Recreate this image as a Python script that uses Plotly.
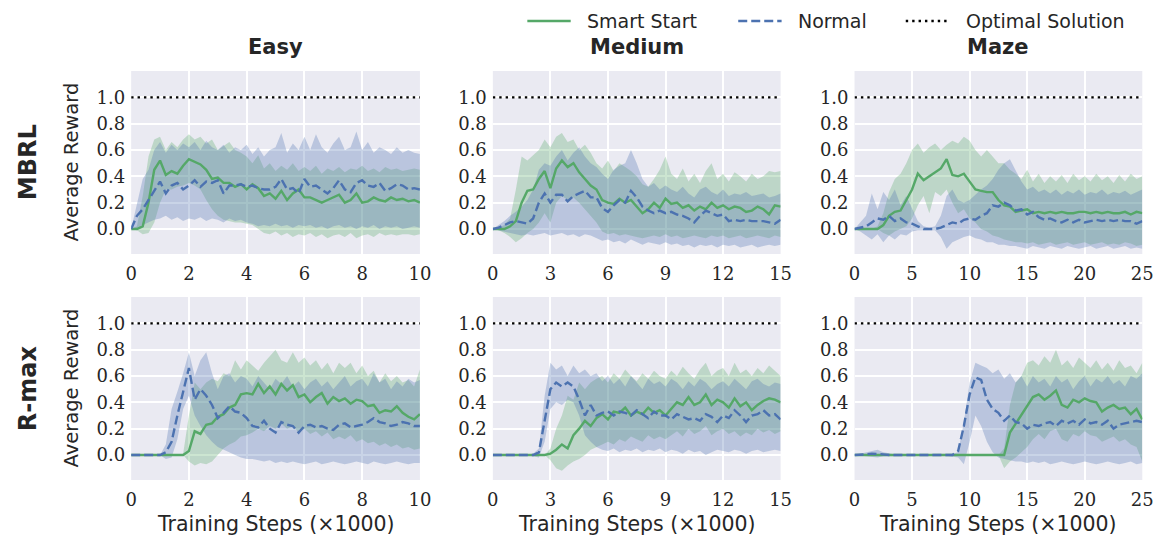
import numpy as np
import plotly.graph_objects as go

W, H = 1173, 540

# ---------------------------------------------------------------- data
envs = ["Easy", "Medium", "Maze"]
algos = ["MBRL", "R-max"]
x_max = {"Easy": 10, "Medium": 15, "Maze": 25}
x_ticks = {"Easy": [0, 2, 4, 6, 8, 10], "Medium": [0, 3, 6, 9, 12, 15], "Maze": [0, 5, 10, 15, 20, 25]}
y_ticks = [0.0, 0.2, 0.4, 0.6, 0.8, 1.0]
optimal_reward = 1.0
series_names = ["Smart Start", "Normal", "Optimal Solution"]

# Easy / MBRL  (samples every 0.2k steps)
easy_mbrl_smart = [0, 0, 0.02, 0.2, 0.45, 0.52, 0.41, 0.44, 0.42, 0.48,
                   0.53, 0.51, 0.49, 0.45, 0.38, 0.39, 0.35, 0.35, 0.32, 0.34,
                   0.3, 0.34, 0.31, 0.25, 0.27, 0.23, 0.29, 0.22, 0.27, 0.3,
                   0.24, 0.24, 0.22, 0.2, 0.22, 0.24, 0.26, 0.2, 0.22, 0.27,
                   0.2, 0.21, 0.24, 0.22, 0.21, 0.24, 0.22, 0.23, 0.21, 0.22, 0.2]
easy_mbrl_smart_lo = [0, -0.01, -0.04, -0.03, 0.05, 0.2, 0.3, 0.3, 0.32, 0.33,
                      0.35, 0.33, 0.3, 0.22, 0.15, 0.1, 0.07, 0.06, 0.05, 0.05,
                      0.04, 0.03, 0.0, -0.03, -0.04, -0.02, -0.05, -0.03, -0.06, -0.04,
                      -0.05, -0.03, -0.06, -0.04, -0.07, -0.05, -0.04, -0.06, -0.03, -0.07,
                      -0.05, -0.04, -0.06, -0.03, -0.05, -0.04, -0.05, -0.04, -0.04, -0.05, -0.04]
easy_mbrl_smart_hi = [0, 0.02, 0.25, 0.55, 0.68, 0.7, 0.6, 0.66, 0.62, 0.68,
                      0.72, 0.68, 0.7, 0.65, 0.68, 0.6, 0.63, 0.66, 0.6, 0.58,
                      0.55, 0.5, 0.56, 0.46, 0.5, 0.44, 0.48, 0.45, 0.5, 0.44,
                      0.47, 0.44, 0.48, 0.42, 0.46, 0.44, 0.47, 0.43, 0.46, 0.45,
                      0.48, 0.44, 0.46, 0.43, 0.47, 0.45, 0.46, 0.44, 0.45, 0.46, 0.45]
easy_mbrl_normal = [0, 0.1, 0.15, 0.22, 0.28, 0.36, 0.27, 0.33, 0.35, 0.3,
                    0.33, 0.37, 0.32, 0.36, 0.35, 0.37, 0.27, 0.33, 0.33, 0.34,
                    0.32, 0.33, 0.31, 0.3, 0.3, 0.32, 0.38, 0.3, 0.31, 0.27,
                    0.38, 0.32, 0.33, 0.3, 0.27, 0.31, 0.37, 0.3, 0.28, 0.35,
                    0.37, 0.33, 0.32, 0.35, 0.29, 0.31, 0.34, 0.33, 0.3, 0.31, 0.3]
easy_mbrl_normal_lo = [0, 0.0, 0.03, 0.05, 0.07, 0.08, 0.1, 0.07, 0.09, 0.06,
                       0.08, 0.07, 0.09, 0.06, 0.08, 0.07, 0.05, 0.08, 0.06, 0.07,
                       0.05, 0.04, 0.02, 0.03, 0.02, 0.04, 0.02, 0.03, 0.01, 0.03,
                       0.02, 0.03, 0.01, 0.02, 0.0, 0.02, 0.03, 0.01, 0.02, 0.0,
                       0.02, 0.01, 0.03, 0.0, 0.02, 0.01, 0.02, 0.0, 0.01, 0.02, 0.01]
easy_mbrl_normal_hi = [0, 0.2, 0.38, 0.45, 0.6, 0.66, 0.58, 0.64, 0.6, 0.65,
                       0.62, 0.66, 0.6, 0.67, 0.62, 0.6, 0.64, 0.58, 0.62, 0.6,
                       0.64, 0.57, 0.62, 0.55, 0.6, 0.62, 0.73, 0.58, 0.65, 0.6,
                       0.7, 0.6, 0.72, 0.62, 0.58, 0.65, 0.7, 0.6, 0.62, 0.74,
                       0.6, 0.66, 0.58, 0.62, 0.6, 0.57, 0.62, 0.58, 0.6, 0.58, 0.57]

# Medium / MBRL  (samples every 0.3k steps)
medium_mbrl_smart = [0, 0, 0, 0.02, 0.06, 0.2, 0.29, 0.3, 0.38, 0.44,
                     0.31, 0.46, 0.52, 0.47, 0.5, 0.43, 0.38, 0.33, 0.3, 0.22,
                     0.2, 0.19, 0.23, 0.2, 0.22, 0.17, 0.12, 0.15, 0.2, 0.16,
                     0.23, 0.19, 0.2, 0.16, 0.18, 0.14, 0.17, 0.15, 0.2, 0.16,
                     0.18, 0.15, 0.17, 0.16, 0.13, 0.14, 0.17, 0.15, 0.11, 0.18, 0.17]
medium_mbrl_smart_lo = [0, -0.01, -0.03, -0.06, -0.1, -0.07, -0.03, 0.0, 0.05, 0.12,
                        0.05, 0.2, 0.25, 0.22, 0.24, 0.2, 0.15, 0.1, 0.05, -0.02,
                        -0.04, -0.03, -0.05, -0.04, -0.05, -0.06, -0.07, -0.06, -0.05, -0.06,
                        -0.04, -0.06, -0.05, -0.07, -0.06, -0.05, -0.06, -0.07, -0.05, -0.06,
                        -0.05, -0.07, -0.06, -0.05, -0.07, -0.06, -0.05, -0.06, -0.07, -0.05, -0.06]
medium_mbrl_smart_hi = [0, 0.01, 0.03, 0.08, 0.3, 0.55, 0.52, 0.56, 0.6, 0.68,
                        0.62, 0.7, 0.73, 0.66, 0.68, 0.6, 0.64, 0.58, 0.5, 0.46,
                        0.52, 0.44, 0.5, 0.47, 0.44, 0.4, 0.34, 0.32, 0.38, 0.45,
                        0.55, 0.42, 0.38, 0.46, 0.36, 0.42, 0.35, 0.44, 0.5, 0.38,
                        0.42, 0.36, 0.43, 0.4, 0.36, 0.42, 0.38, 0.4, 0.44, 0.43, 0.44]
medium_mbrl_normal = [0, 0.01, 0.03, 0.05, 0.06, 0.05, 0.04, 0.08, 0.2, 0.27,
                      0.2, 0.26, 0.26, 0.21, 0.25, 0.27, 0.29, 0.24, 0.24, 0.16,
                      0.13, 0.18, 0.22, 0.2, 0.29, 0.24, 0.17, 0.14, 0.12, 0.14,
                      0.12, 0.13, 0.11, 0.1, 0.08, 0.05, 0.1, 0.14, 0.12, 0.1,
                      0.11, 0.06, 0.07, 0.06, 0.07, 0.06, 0.06, 0.06, 0.05, 0.04, 0.07]
medium_mbrl_normal_lo = [0, -0.01, -0.02, -0.03, -0.04, -0.05, -0.04, -0.05, -0.04, -0.03,
                         -0.05, -0.04, -0.03, -0.05, -0.04, -0.06, -0.04, -0.05, -0.07, -0.09,
                         -0.08, -0.1, -0.09, -0.11, -0.08, -0.1, -0.12, -0.1, -0.11, -0.12,
                         -0.1, -0.12, -0.11, -0.13, -0.12, -0.14, -0.12, -0.13, -0.12, -0.14,
                         -0.12, -0.13, -0.12, -0.14, -0.13, -0.12, -0.14, -0.13, -0.12, -0.13, -0.12]
medium_mbrl_normal_hi = [0, 0.03, 0.06, 0.1, 0.13, 0.17, 0.22, 0.3, 0.45, 0.5,
                         0.48, 0.55, 0.6, 0.52, 0.58, 0.62, 0.55, 0.5, 0.47, 0.42,
                         0.38, 0.45, 0.48, 0.5, 0.6, 0.5, 0.38, 0.32, 0.35, 0.3,
                         0.33, 0.3, 0.28, 0.32, 0.27, 0.24, 0.3, 0.32, 0.28, 0.26,
                         0.3, 0.25, 0.27, 0.26, 0.28, 0.25, 0.26, 0.27, 0.24, 0.25, 0.27]

# Maze / MBRL  (samples every 0.5k steps)
maze_mbrl_smart = [0, 0, 0, 0, 0, 0.03, 0.1, 0.13, 0.14, 0.22,
                   0.3, 0.42, 0.37, 0.4, 0.43, 0.46, 0.53, 0.41, 0.4, 0.42,
                   0.36, 0.3, 0.29, 0.28, 0.28, 0.22, 0.18, 0.17, 0.13, 0.14,
                   0.15, 0.12, 0.13, 0.12, 0.13, 0.12, 0.13, 0.12, 0.12, 0.13,
                   0.13, 0.12, 0.13, 0.12, 0.13, 0.12, 0.12, 0.13, 0.11, 0.13, 0.12]
maze_mbrl_smart_lo = [0, 0, 0, 0, 0, -0.03, -0.05, -0.02, 0.0, 0.02,
                      0.08, 0.18, 0.25, 0.12, 0.28, 0.25, 0.3, 0.2, 0.12, 0.15,
                      0.08, 0.05, 0.0, -0.02, -0.05, -0.06, -0.08, -0.09, -0.1, -0.1,
                      -0.11, -0.1, -0.12, -0.11, -0.1, -0.12, -0.11, -0.1, -0.12, -0.11,
                      -0.1, -0.12, -0.11, -0.1, -0.12, -0.11, -0.12, -0.1, -0.11, -0.13, -0.12]
maze_mbrl_smart_hi = [0, 0, 0, 0, 0.02, 0.12, 0.28, 0.38, 0.42, 0.5,
                      0.6, 0.65, 0.58, 0.62, 0.65, 0.6, 0.64, 0.67, 0.65, 0.7,
                      0.67, 0.6, 0.55, 0.6, 0.55, 0.5, 0.5, 0.45, 0.42, 0.38,
                      0.45, 0.36, 0.42, 0.35, 0.4, 0.36, 0.41, 0.35, 0.42, 0.37,
                      0.4, 0.36, 0.42, 0.37, 0.4, 0.35, 0.41, 0.36, 0.42, 0.38, 0.4]
maze_mbrl_normal = [0, 0.01, 0.02, 0.05, 0.08, 0.07, 0.1, 0.06, 0.08, 0.05,
                    0.04, 0.02, 0.0, 0.0, 0.0, 0.01, 0.03, 0.05, 0.04, 0.07,
                    0.08, 0.07, 0.1, 0.12, 0.18, 0.17, 0.2, 0.18, 0.14, 0.15,
                    0.11, 0.13, 0.09, 0.07, 0.08, 0.06, 0.05, 0.07, 0.05, 0.07,
                    0.05, 0.06, 0.07, 0.06, 0.07, 0.06, 0.07, 0.06, 0.06, 0.04, 0.06]
maze_mbrl_normal_lo = [0, -0.02, -0.05, -0.08, -0.04, -0.1, -0.05, -0.08, -0.04, -0.05,
                       -0.02, -0.01, -0.01, -0.01, -0.01, -0.06, -0.15, -0.1, -0.08, -0.06,
                       -0.05, -0.07, -0.08, -0.1, -0.1, -0.12, -0.12, -0.13, -0.13, -0.14,
                       -0.15, -0.13, -0.14, -0.15, -0.13, -0.14, -0.15, -0.13, -0.14, -0.15,
                       -0.14, -0.13, -0.15, -0.14, -0.13, -0.15, -0.14, -0.13, -0.15, -0.14, -0.15]
maze_mbrl_normal_hi = [0, 0.05, 0.1, 0.27, 0.15, 0.28, 0.22, 0.3, 0.18, 0.25,
                       0.15, 0.06, 0.02, 0.01, 0.02, 0.1, 0.25, 0.3, 0.22, 0.2,
                       0.22, 0.26, 0.3, 0.33, 0.38, 0.45, 0.5, 0.53, 0.45, 0.36,
                       0.3, 0.32, 0.28, 0.3, 0.27, 0.3, 0.26, 0.29, 0.27, 0.3,
                       0.26, 0.28, 0.27, 0.3, 0.26, 0.28, 0.27, 0.29, 0.26, 0.28, 0.3]

# Easy / R-max  (samples every 0.2k steps)
easy_rmax_smart = [0, 0, 0, 0, 0, 0, 0, 0, 0, 0,
                   0.03, 0.18, 0.16, 0.23, 0.24, 0.29, 0.31, 0.36, 0.38, 0.46,
                   0.47, 0.46, 0.54, 0.47, 0.52, 0.46, 0.54, 0.49, 0.53, 0.44,
                   0.46, 0.4, 0.44, 0.47, 0.39, 0.44, 0.41, 0.43, 0.39, 0.42,
                   0.41, 0.37, 0.38, 0.32, 0.34, 0.33, 0.37, 0.32, 0.29, 0.27, 0.31]
easy_rmax_smart_lo = [0, 0, 0, 0, 0, 0, 0, 0, 0, 0,
                      -0.05, -0.08, -0.06, -0.07, -0.05, 0.0, 0.05, 0.08, 0.1, 0.14,
                      0.15, 0.17, 0.2, 0.18, 0.22, 0.2, 0.24, 0.2, 0.22, 0.17,
                      0.2, 0.16, 0.18, 0.14, 0.17, 0.12, 0.14, 0.12, 0.15, 0.1,
                      0.12, 0.09, 0.1, 0.07, 0.09, 0.06, 0.08, 0.05, 0.06, 0.04, 0.05]
easy_rmax_smart_hi = [0, 0, 0, 0, 0, 0, 0, 0, 0, 0.01,
                      0.3, 0.55, 0.5, 0.55, 0.58, 0.56, 0.62, 0.6, 0.72, 0.65,
                      0.72, 0.68, 0.64, 0.7, 0.75, 0.8, 0.72, 0.7, 0.78, 0.7,
                      0.74, 0.68, 0.72, 0.65, 0.7, 0.62, 0.7, 0.66, 0.7, 0.62,
                      0.68, 0.6, 0.64, 0.55, 0.62, 0.56, 0.6, 0.55, 0.57, 0.52, 0.65]
easy_rmax_normal = [0, 0, 0, 0, 0, 0, 0.02, 0.1, 0.3, 0.48,
                    0.66, 0.42, 0.5, 0.45, 0.38, 0.28, 0.32, 0.37, 0.33, 0.32,
                    0.28, 0.22, 0.21, 0.26, 0.2, 0.17, 0.25, 0.23, 0.22, 0.17,
                    0.22, 0.23, 0.21, 0.22, 0.2, 0.19, 0.23, 0.24, 0.21, 0.22,
                    0.23, 0.25, 0.28, 0.25, 0.24, 0.22, 0.23, 0.25, 0.24, 0.22, 0.22]
easy_rmax_normal_lo = [0, 0, 0, 0, 0, 0, -0.03, -0.02, 0.12, 0.35,
                       0.45, 0.3, 0.22, 0.15, 0.1, 0.06, 0.04, 0.02, 0.0, -0.02,
                       -0.03, -0.03, -0.04, -0.05, -0.04, -0.06, -0.05, -0.06, -0.05, -0.06,
                       -0.07, -0.06, -0.05, -0.07, -0.06, -0.05, -0.06, -0.07, -0.06, -0.05,
                       -0.06, -0.07, -0.05, -0.06, -0.07, -0.06, -0.05, -0.06, -0.07, -0.06, -0.06]
easy_rmax_normal_hi = [0, 0, 0, 0, 0, 0, 0.08, 0.35, 0.48, 0.62,
                       0.78, 0.6, 0.72, 0.78, 0.62, 0.5, 0.6, 0.62, 0.55, 0.6,
                       0.58, 0.52, 0.6, 0.55, 0.5, 0.58, 0.54, 0.6, 0.52, 0.56,
                       0.5, 0.55, 0.58, 0.52, 0.56, 0.5, 0.55, 0.6, 0.52, 0.56,
                       0.58, 0.52, 0.62, 0.55, 0.58, 0.5, 0.56, 0.52, 0.58, 0.55, 0.57]

# Medium / R-max  (samples every 0.3k steps)
medium_rmax_smart = [0, 0, 0, 0, 0, 0, 0, 0, 0, 0,
                     0.01, 0.04, 0.08, 0.05, 0.15, 0.2, 0.26, 0.22, 0.28, 0.31,
                     0.27, 0.33, 0.32, 0.36, 0.3, 0.33, 0.31, 0.36, 0.32, 0.34,
                     0.3, 0.35, 0.4, 0.38, 0.44, 0.38, 0.4, 0.46, 0.38, 0.42,
                     0.4, 0.36, 0.43, 0.37, 0.4, 0.34, 0.38, 0.41, 0.43, 0.42, 0.4]
medium_rmax_smart_lo = [0, 0, 0, 0, 0, 0, 0, 0, 0, 0,
                        -0.04, -0.1, -0.12, -0.08, -0.05, -0.03, 0.0, 0.04, 0.06, 0.08,
                        0.1, 0.08, 0.12, 0.1, 0.14, 0.12, 0.1, 0.15, 0.12, 0.14,
                        0.12, 0.15, 0.18, 0.14, 0.2, 0.16, 0.18, 0.22, 0.15, 0.18,
                        0.2, 0.16, 0.18, 0.14, 0.17, 0.15, 0.2, 0.17, 0.19, 0.16, 0.18]
medium_rmax_smart_hi = [0, 0, 0, 0, 0, 0, 0, 0, 0, 0,
                        0.05, 0.2, 0.3, 0.45, 0.42, 0.55, 0.5, 0.55, 0.58, 0.6,
                        0.55, 0.62, 0.58, 0.65, 0.6, 0.56, 0.62, 0.58, 0.64, 0.6,
                        0.58, 0.64, 0.6, 0.67, 0.62, 0.58, 0.65, 0.7, 0.6, 0.64,
                        0.66, 0.6, 0.7, 0.62, 0.65, 0.6, 0.66, 0.62, 0.68, 0.64, 0.6]
medium_rmax_normal = [0, 0, 0, 0, 0, 0, 0, 0, 0.02, 0.25,
                      0.5, 0.55, 0.52, 0.55, 0.52, 0.42, 0.3, 0.38, 0.3, 0.32,
                      0.33, 0.3, 0.33, 0.32, 0.3, 0.34, 0.31, 0.28, 0.33, 0.3,
                      0.3, 0.27, 0.31, 0.29, 0.27, 0.28, 0.26, 0.31, 0.29, 0.25,
                      0.3, 0.28, 0.34, 0.3, 0.25, 0.3, 0.31, 0.34, 0.3, 0.31, 0.27]
medium_rmax_normal_lo = [0, 0, 0, 0, 0, 0, 0, -0.01, -0.02, 0.1,
                         0.35, 0.4, 0.38, 0.42, 0.4, 0.3, 0.15, 0.1, 0.06, 0.04,
                         0.03, 0.05, 0.02, 0.04, 0.03, 0.05, 0.02, 0.04, 0.03, 0.05,
                         0.02, 0.04, 0.03, 0.01, 0.04, 0.02, 0.03, 0.0, 0.02, 0.04,
                         0.03, 0.02, 0.04, 0.03, 0.01, 0.03, 0.04, 0.02, 0.03, 0.04, 0.03]
medium_rmax_normal_hi = [0, 0, 0, 0, 0, 0, 0, 0.01, 0.05, 0.45,
                         0.7, 0.65, 0.68, 0.6, 0.68, 0.62, 0.65, 0.6, 0.62, 0.56,
                         0.6, 0.54, 0.58, 0.52, 0.6, 0.55, 0.5, 0.58, 0.54, 0.56,
                         0.52, 0.58, 0.55, 0.5, 0.56, 0.52, 0.58, 0.55, 0.5, 0.54,
                         0.56, 0.52, 0.58, 0.54, 0.5, 0.56, 0.58, 0.54, 0.52, 0.55, 0.54]

# Maze / R-max  (samples every 0.5k steps)
maze_rmax_smart = [0, 0, 0, 0, 0, 0, 0, 0, 0, 0,
                   0, 0, 0, 0, 0, 0, 0, 0, 0, 0,
                   0, 0, 0, 0, 0, 0, 0.0, 0.17, 0.24, 0.3,
                   0.38, 0.44, 0.46, 0.42, 0.45, 0.49, 0.38, 0.36, 0.42, 0.4,
                   0.43, 0.41, 0.4, 0.33, 0.36, 0.38, 0.35, 0.36, 0.31, 0.35, 0.27]
maze_rmax_smart_lo = [0, 0, 0, 0, 0, 0, 0, 0, 0, 0,
                      0, 0, 0, 0, 0, 0, 0, 0, 0, 0,
                      0, 0, 0, 0, 0, 0, -0.1, -0.05, -0.02, 0.02,
                      0.06, 0.12, 0.16, 0.12, 0.18, 0.2, 0.12, 0.1, 0.16, 0.14,
                      0.18, 0.15, 0.14, 0.1, 0.12, 0.14, 0.1, 0.12, 0.08, 0.06, -0.05]
maze_rmax_smart_hi = [0, 0, 0, 0, 0, 0, 0, 0, 0, 0,
                      0, 0, 0, 0, 0, 0, 0, 0, 0, 0,
                      0, 0, 0, 0, 0, 0, 0.05, 0.38, 0.55, 0.6,
                      0.7, 0.72, 0.68, 0.75, 0.7, 0.8, 0.68, 0.72, 0.66, 0.74,
                      0.7, 0.66, 0.72, 0.65, 0.7, 0.64, 0.72, 0.66, 0.68, 0.62, 0.7]
maze_rmax_normal = [0, 0, 0.005, 0.01, 0.01, 0.005, 0, 0, 0, 0,
                    0, 0, 0, 0, 0, 0, 0, 0.0, 0.03, 0.22,
                    0.46, 0.59, 0.57, 0.42, 0.35, 0.32, 0.26, 0.3, 0.25, 0.24,
                    0.2, 0.23, 0.22, 0.24, 0.25, 0.22, 0.26, 0.24, 0.26, 0.23,
                    0.27, 0.24, 0.25, 0.23, 0.26, 0.2, 0.23, 0.24, 0.25, 0.26, 0.25]
maze_rmax_normal_lo = [0, -0.005, -0.01, -0.015, -0.02, -0.01, -0.005, -0.005, -0.005, -0.005,
                       -0.01, -0.005, -0.005, -0.005, -0.005, -0.005, -0.005, -0.01, -0.02, -0.07,
                       0.1, 0.3, 0.22, 0.1, 0.02, -0.02, -0.03, -0.04, -0.05, -0.05,
                       -0.06, -0.05, -0.06, -0.05, -0.07, -0.06, -0.05, -0.06, -0.07, -0.06,
                       -0.05, -0.06, -0.07, -0.06, -0.05, -0.06, -0.07, -0.06, -0.05, -0.07, -0.06]
maze_rmax_normal_hi = [0, 0.01, 0.02, 0.03, 0.04, 0.02, 0.01, 0.005, 0.005, 0.005,
                       0.01, 0.005, 0.005, 0.005, 0.005, 0.005, 0.005, 0.01, 0.02, 0.25,
                       0.55, 0.7, 0.68, 0.66, 0.62, 0.65, 0.58, 0.62, 0.55, 0.6,
                       0.52, 0.6, 0.55, 0.58, 0.52, 0.6, 0.55, 0.58, 0.5, 0.56,
                       0.6, 0.52, 0.58, 0.55, 0.6, 0.54, 0.57, 0.52, 0.6, 0.58, 0.62]

curves = {
    ("MBRL", "Easy"): (easy_mbrl_smart, easy_mbrl_smart_lo, easy_mbrl_smart_hi,
                       easy_mbrl_normal, easy_mbrl_normal_lo, easy_mbrl_normal_hi),
    ("MBRL", "Medium"): (medium_mbrl_smart, medium_mbrl_smart_lo, medium_mbrl_smart_hi,
                         medium_mbrl_normal, medium_mbrl_normal_lo, medium_mbrl_normal_hi),
    ("MBRL", "Maze"): (maze_mbrl_smart, maze_mbrl_smart_lo, maze_mbrl_smart_hi,
                       maze_mbrl_normal, maze_mbrl_normal_lo, maze_mbrl_normal_hi),
    ("R-max", "Easy"): (easy_rmax_smart, easy_rmax_smart_lo, easy_rmax_smart_hi,
                        easy_rmax_normal, easy_rmax_normal_lo, easy_rmax_normal_hi),
    ("R-max", "Medium"): (medium_rmax_smart, medium_rmax_smart_lo, medium_rmax_smart_hi,
                          medium_rmax_normal, medium_rmax_normal_lo, medium_rmax_normal_hi),
    ("R-max", "Maze"): (maze_rmax_smart, maze_rmax_smart_lo, maze_rmax_smart_hi,
                        maze_rmax_normal, maze_rmax_normal_lo, maze_rmax_normal_hi),
}

# ---------------------------------------------------------------- style
GREEN = "#55A868"
BLUE = "#4C72B0"
GREEN_FILL = "rgba(85,168,104,0.30)"
BLUE_FILL = "rgba(76,114,176,0.30)"
BG = "#EAEAF2"
TXT = "#262626"
SANS = "DejaVu Sans"
SERIF = "DejaVu Serif"
LINE_W = 2.4
series_lines = [
    dict(color=GREEN, width=LINE_W),
    dict(color=BLUE, width=LINE_W, dash="9px,4px"),
    dict(color="black", width=LINE_W, dash="2.4px,4px"),
]

# panel boxes in pixels (left, right) per column, (top, bottom) per row
col_px = [(127, 420), (494, 786), (861, 1153)]
row_px = [(71, 254), (297, 480)]
y_range = [-0.19, 1.2]


def px_x(p):
    return p / W


def px_y(p):
    return 1 - p / H


fig = go.Figure()

for r, algo in enumerate(algos):
    for c, env in enumerate(envs):
        k = r * 3 + c + 1
        xa = "x" if k == 1 else f"x{k}"
        ya = "y" if k == 1 else f"y{k}"
        ss, ss_lo, ss_hi, nm, nm_lo, nm_hi = curves[(algo, env)]

        def xs(arr):
            return np.linspace(0, x_max[env], len(arr))

        # shaded spread of each method
        for lo, hi, fill in ((ss_lo, ss_hi, GREEN_FILL), (nm_lo, nm_hi, BLUE_FILL)):
            xb = xs(lo)
            fig.add_trace(go.Scatter(
                x=np.concatenate([xb, xb[::-1]]),
                y=np.concatenate([np.array(hi), np.array(lo)[::-1]]),
                fill="toself", fillcolor=fill, line=dict(width=0),
                mode="lines", hoverinfo="skip", showlegend=False,
                xaxis=xa, yaxis=ya))

        fig.add_trace(go.Scatter(x=xs(ss), y=ss, mode="lines", name=series_names[0],
                                 line=series_lines[0], showlegend=False, xaxis=xa, yaxis=ya))
        fig.add_trace(go.Scatter(x=xs(nm), y=nm, mode="lines", name=series_names[1],
                                 line=series_lines[1], showlegend=False, xaxis=xa, yaxis=ya))
        fig.add_trace(go.Scatter(x=[0, x_max[env]], y=[optimal_reward, optimal_reward],
                                 mode="lines", name=series_names[2], line=series_lines[2],
                                 showlegend=False, xaxis=xa, yaxis=ya))

        x0, x1 = col_px[c]
        t0, t1 = row_px[r]
        fig.update_layout({
            ("xaxis" if k == 1 else f"xaxis{k}"): dict(
                domain=[px_x(x0), px_x(x1)], range=[0, x_max[env]],
                anchor=ya, tickvals=x_ticks[env], ticks="", ticklabelstandoff=7,
                showgrid=True, gridcolor="white", gridwidth=1.6,
                zeroline=False, showline=False,
                tickfont=dict(family=SERIF, size=18, color=TXT)),
            ("yaxis" if k == 1 else f"yaxis{k}"): dict(
                domain=[px_y(t1), px_y(t0)], range=y_range,
                anchor=xa, tickvals=y_ticks, tickformat=".1f", ticks="",
                ticklabelstandoff=5,
                showgrid=True, gridcolor="white", gridwidth=1.6,
                zeroline=False, showline=False,
                tickfont=dict(family=SERIF, size=18, color=TXT)),
        })

annotations = []
for c, env in enumerate(envs):
    cx = (col_px[c][0] + col_px[c][1]) / 2
    annotations.append(dict(x=px_x(cx), y=px_y(47), text=f"<b>{env}</b>",
                            font=dict(family=SANS, size=21, color=TXT)))
    annotations.append(dict(x=px_x(cx), y=px_y(524), text="Training Steps (×1000)",
                            font=dict(family=SANS, size=20.5, color=TXT)))
for r, algo in enumerate(algos):
    cy = (row_px[r][0] + row_px[r][1]) / 2
    annotations.append(dict(x=px_x(22), y=px_y(cy), text=f"<b>{algo}</b>", textangle=-90,
                            font=dict(family=SANS, size=24, color=TXT)))
    annotations.append(dict(x=px_x(66), y=px_y(cy), text="Average Reward", textangle=-90,
                            font=dict(family=SANS, size=19.5, color=TXT)))
for a in annotations:
    a.update(xref="paper", yref="paper", showarrow=False, xanchor="center", yanchor="middle")

# key along the top: sample line followed by its label
shapes = []
key_y = px_y(21)
for name, style, (l0, l1) in zip(series_names, series_lines,
                                 [(529, 573), (743, 787), (913, 957)]):
    shapes.append(dict(type="line", xref="paper", yref="paper",
                       x0=px_x(l0), x1=px_x(l1), y0=key_y, y1=key_y, line=style))
    annotations.append(dict(x=px_x(l1 + 15), y=key_y, text=name, xref="paper", yref="paper",
                            showarrow=False, xanchor="left", yanchor="middle",
                            font=dict(family=SANS, size=19, color=TXT)))

fig.update_layout(
    width=W, height=H,
    margin=dict(l=0, r=0, t=0, b=0),
    paper_bgcolor="white", plot_bgcolor=BG,
    annotations=annotations, shapes=shapes,
    showlegend=False,
)

fig.write_html("out.html")
